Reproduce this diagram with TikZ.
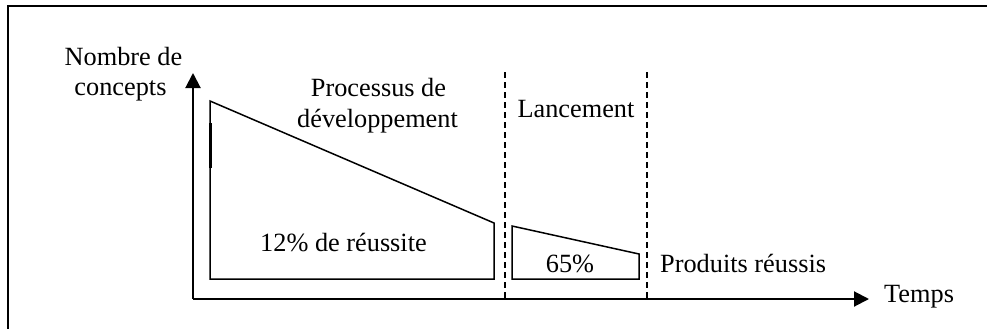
\documentclass[tikz,border=0pt]{standalone}
\usepackage{fontspec}
\setmainfont{Liberation Serif}
\usetikzlibrary{arrows.meta}
\begin{document}
\begin{tikzpicture}[x=1pt,y=-1pt,
  lbl/.style={inner sep=0pt,anchor=base,font=\fontsize{26.3}{30}\selectfont},
  axis/.style={line width=2pt,-{Triangle[length=15pt,width=15pt]}},
  trap/.style={line width=1.5pt,line join=miter},
  sep/.style={line width=1.5pt,dash pattern=on 6pt off 4pt},
  frame/.style={line width=2pt}]
\useasboundingbox (0,0) rectangle (987,329);
% frame
\coordinate (ftr) at (987,6);
\coordinate (ftl) at (8,6);
\coordinate (fbl) at (8,329);
\draw[frame] (ftr) -- (ftl) -- (fbl);
% axes
\coordinate (o) at (193,299);
\coordinate (ytop) at (193,73);
\coordinate (xend) at (869,299);
\draw[axis] (o) -- (ytop);
\draw[axis] (o) -- (xend);
% big trapezoid
\coordinate (a1) at (210,279);
\coordinate (a2) at (210,101);
\coordinate (a3) at (494,223);
\coordinate (a4) at (494,279);
\draw[trap] (a1) -- (a2) -- (a3) -- (a4) -- cycle;
\coordinate (t1) at (210,123);
\coordinate (t2) at (210,168);
\draw[line width=3pt] (t1) -- (t2);
% small trapezoid
\coordinate (b1) at (512,279);
\coordinate (b2) at (512,226);
\coordinate (b3) at (639,254);
\coordinate (b4) at (639,279);
\draw[trap] (b1) -- (b2) -- (b3) -- (b4) -- cycle;
% dashed separators
\coordinate (d1t) at (505,72);
\coordinate (d1b) at (505,299);
\coordinate (d2t) at (647,72);
\coordinate (d2b) at (647,299);
\draw[sep] (d1t) -- (d1b);
\draw[sep] (d2t) -- (d2b);
% labels
\node[lbl] (n1) at (123.5,65) {Nombre de};
\node[lbl] (n2) at (120.5,95) {concepts};
\node[lbl] (p1) at (378.5,96) {Processus de};
\node[lbl] (p2) at (377.5,127) {développement};
\node[lbl] (lan) at (576,117) {Lancement};
\node[lbl] (r12) at (343.5,251) {12\% de réussite};
\node[lbl] (r65) at (570,272) {65\%};
\node[lbl,anchor=base west] (prod) at (660,272) {Produits réussis};
\node[lbl,anchor=base west] (temps) at (884,302) {Temps};
\end{tikzpicture}
\end{document}
